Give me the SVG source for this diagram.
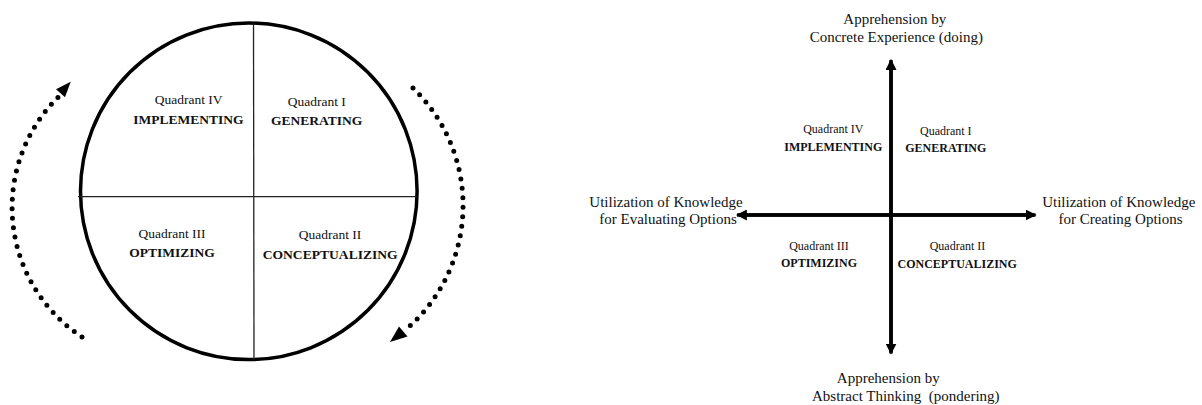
<svg xmlns="http://www.w3.org/2000/svg" width="1202" height="405" viewBox="0 0 1202 405">
  <style>
    text { font-family: "Liberation Serif", "Times New Roman", serif; fill: #111; text-anchor: middle; }
    .ql { font-size: 13.5px; }
    .qb { font-size: 13.5px; font-weight: bold; }
    .sl { font-size: 12px; }
    .sb { font-size: 12px; font-weight: bold; }
    .ax { font-size: 15px; white-space: pre; }
    .divider { stroke: #222; stroke-width: 1.3; fill: none; }
    .dots { fill: none; stroke: #000; stroke-width: 5; stroke-linecap: round; stroke-dasharray: 0 9.5; }
    .axis { stroke: #000; stroke-width: 3.5; fill: none; }
    .head { fill: #000; }
  </style>
  <defs>
    <marker id="axisHead" viewBox="0 0 10 10" refX="9" refY="5" markerWidth="11" markerHeight="11" markerUnits="userSpaceOnUse" orient="auto">
      <path d="M0,0 L10,5 L0,10 Z" fill="#000"/>
    </marker>
  </defs>

  <!-- Cycle wheel: outer circle and quadrant dividers -->
  <g id="wheel">
    <circle cx="248.8" cy="191.3" r="168.3" fill="#fff" stroke="#000" stroke-width="3.5"/>
    <line class="divider" x1="253.5" y1="23" x2="254" y2="360"/>
    <line class="divider" x1="78" y1="196.7" x2="417" y2="196.7"/>
  </g>

  <g id="wheel-q4">
    <text class="ql" x="188.6" y="104">Quadrant IV</text>
    <text class="qb" x="188.4" y="124">IMPLEMENTING</text>
  </g>
  <g id="wheel-q1">
    <text class="ql" x="316.8" y="106">Quadrant I</text>
    <text class="qb" x="316.7" y="125">GENERATING</text>
  </g>
  <g id="wheel-q3">
    <text class="ql" x="172" y="237.5">Quadrant III</text>
    <text class="qb" x="172" y="256.8">OPTIMIZING</text>
  </g>
  <g id="wheel-q2">
    <text class="ql" x="330" y="239">Quadrant II</text>
    <text class="qb" x="330.2" y="258.5" textLength="135" lengthAdjust="spacingAndGlyphs">CONCEPTUALIZING</text>
  </g>

  <!-- Quadrant grid labels -->
  <g id="grid-top">
    <text class="ax" x="894.8" y="24">Apprehension by</text>
    <text class="ax" x="896.3" y="41.7">Concrete Experience (doing)</text>
  </g>
  <g id="grid-bottom">
    <text class="ax" x="888.3" y="383.3">Apprehension by</text>
    <text class="ax" x="905.8" y="401">Abstract Thinking  (pondering)</text>
  </g>
  <g id="grid-left">
    <text class="ax" x="666" y="206.7">Utilization of Knowledge</text>
    <text class="ax" x="668" y="224">for Evaluating Options</text>
  </g>
  <g id="grid-right">
    <text class="ax" x="1118.8" y="206.7">Utilization of Knowledge</text>
    <text class="ax" x="1120.5" y="224">for Creating Options</text>
  </g>
  <g id="grid-q4">
    <text class="sl" x="833.3" y="133.3">Quadrant IV</text>
    <text class="sb" x="833.3" y="150.7">IMPLEMENTING</text>
  </g>
  <g id="grid-q1">
    <text class="sl" x="945.8" y="135">Quadrant I</text>
    <text class="sb" x="945.8" y="152.3">GENERATING</text>
  </g>
  <g id="grid-q3">
    <text class="sl" x="819" y="250">Quadrant III</text>
    <text class="sb" x="819" y="266.7">OPTIMIZING</text>
  </g>
  <g id="grid-q2">
    <text class="sl" x="957.5" y="250">Quadrant II</text>
    <text class="sb" x="957.2" y="268.2">CONCEPTUALIZING</text>
  </g>

  <!-- Connectors: dotted cycle arrows and the two axes -->
  <g id="connectors">
    <path class="dots" d="M 82 337 A 155 155 0 0 1 60.1 95.3"/>
    <polygon class="head" points="70.7,81.7 56,89.3 65,97.3"/>
    <path class="dots" d="M 413 88 A 163 163 0 0 1 403.5 331.5"/>
    <polygon class="head" points="390,342 407.5,336.5 399,326.5"/>

    <line class="axis" x1="891" y1="352" x2="891" y2="60" marker-end="url(#axisHead)"/>
    <line class="axis" x1="891" y1="62" x2="891" y2="353.5" marker-end="url(#axisHead)"/>
    <line class="axis" x1="1034" y1="215" x2="737" y2="215" marker-end="url(#axisHead)"/>
    <line class="axis" x1="740" y1="215" x2="1035.5" y2="215" marker-end="url(#axisHead)"/>
  </g>
</svg>
